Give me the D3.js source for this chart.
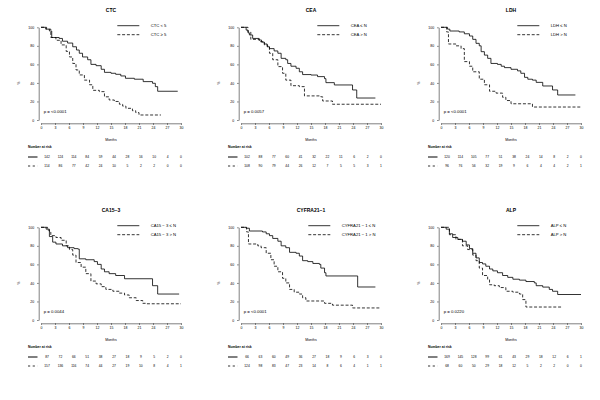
<!DOCTYPE html>
<html>
<head>
<meta charset="utf-8">
<script src="https://cdn.jsdelivr.net/npm/d3@7"></script>
<style>
html,body{margin:0;padding:0;background:#fff;}
svg{display:block;font-family:"Liberation Sans",Arial,sans-serif;}
</style>
</head>
<body>
<svg id="chart" width="600" height="400"></svg>
<script>
// ---------- data ----------
const titles = ["CTC", "CEA", "LDH", "CA15\u22123", "CYFRA21\u22121", "ALP"];
const legendLow = ["CTC < 5", "CEA \u2264 N", "LDH \u2264 N", "CA15 \u2212 3 \u2264 N", "CYFRA21 \u2212 1 \u2264 N", "ALP \u2264 N"];
const legendHigh = ["CTC \u2265 5", "CEA > N", "LDH > N", "CA15 \u2212 3 > N", "CYFRA21 \u2212 1 > N", "ALP > N"];
const pValues = ["p = <0.0001", "p = 0.0057", "p = <0.0001", "p = 0.0044", "p = <0.0001", "p = 0.0220"];
const xTicks = [0, 3, 6, 9, 12, 15, 18, 21, 24, 27, 30];
const yTicks = [0, 20, 40, 60, 80, 100];

// step curves: [month, survival %]
const ctcLow = [[0,100],[1.2,98],[1.8,96],[2.3,89],[3.9,88],[4.6,85],[5.7,83],[6.8,79],[7.6,75.5],[8.2,72],[8.9,68],[10,65],[10.7,60],[11.8,58.6],[12.9,54.7],[13.6,51.4],[15,50.4],[16,49.3],[17.1,47.5],[18.1,45],[20,44],[21.9,41.4],[23.9,39.6],[24.5,36],[25,31],[29.3,31]];
const ctcHigh = [[0,100],[1,98],[2.1,89],[3.2,86],[4.3,81],[5.4,74],[6.1,68],[6.8,61],[7.5,54],[8.2,48.6],[9.3,43],[10.4,38],[11.1,32],[12.5,30.6],[13.6,25],[14.6,21.6],[15.7,20],[16.8,17],[17.5,15],[18.2,12.6],[19.6,10],[20.3,8],[21,5.4],[25.7,5.4]];
const ceaLow = [[0,100],[1.1,97],[1.5,94],[1.8,91.7],[2.5,88],[3.9,86.3],[4.4,84],[5,82],[5.6,79],[6.1,77],[7.1,74.5],[7.9,72],[8.6,66.5],[9.6,65],[10,61],[10.7,58],[11.8,55.8],[12.5,52],[13.2,49],[15,48.5],[16.4,46.8],[17.9,44.6],[18.2,40.3],[20,37.8],[23.9,32.4],[24.8,23.7],[28.8,23.7]];
const ceaHigh = [[0,100],[1.5,95],[2.1,87],[3.9,84.5],[5,81],[5.7,79],[6.1,72],[6.8,65],[7.9,57.6],[8.9,50.4],[9.6,43],[10.7,37],[12.5,36],[13.6,26],[17.1,25],[17.5,20.5],[19.6,17],[30,17]];
const ldhLow = [[0,100],[1.4,98],[1.9,96],[3.9,95],[5,93],[6.1,90.6],[6.8,87],[7.5,82.7],[8.2,80],[8.6,73.7],[9.3,70],[10,66.5],[10.7,61],[12.1,60],[12.9,58],[13.6,56.5],[15,54.7],[16.4,53],[17.1,50.4],[17.9,46],[18.6,44],[19.6,43],[20.4,40.6],[21.8,36.7],[23.9,32.4],[25,27],[28.8,27]];
const ldhHigh = [[0,100],[1.2,95],[1.6,82],[3.2,80],[4.3,77],[5,63],[6.1,58],[6.8,52],[8.2,44],[9.3,38],[10.4,31],[11.8,29],[13.2,24.5],[13.9,21],[15,17.5],[19.6,14],[30,14]];
const caLow = [[0,100],[1.1,98],[1.8,90],[2.5,84],[3.2,82],[4.6,80],[5.7,78],[7.1,77],[7.9,76.5],[8.2,66],[9.6,65],[11.4,63],[12.1,60],[12.9,55],[13.6,52],[14.6,50],[16,48],[17.9,44.5],[23.9,37],[25,28],[29.6,28]];
const caHigh = [[0,100],[1.4,97],[1.8,95],[2.1,91],[3.2,89],[4.3,86],[5.4,80],[6.1,76],[6.8,70],[7.5,62],[8.6,57],[9.6,50],[10.7,42],[11.8,39],[12.9,36],[13.9,33],[15.4,31],[16.8,29],[17.9,27],[18.9,24],[20.4,21],[21.8,18],[22.5,17.5],[30,17.5]];
const cyfraLow = [[0,100],[1.1,99],[1.8,96],[4.6,95],[5.4,93],[6.1,91],[6.8,88],[7.9,85],[8.6,80],[9.6,78],[10.4,73],[11.8,72],[12.5,69],[13.2,64],[14.3,63],[15.4,61],[16.8,60],[17.1,56],[17.9,51],[18.2,47.5],[25,35.6],[28.8,35.6]];
const cyfraHigh = [[0,100],[1.2,95],[1.6,82],[3.6,80],[4.3,78],[5.4,72],[6.4,65],[7.1,58],[7.9,52],[8.9,45],[9.6,40],[10.4,33],[11.4,30],[12.5,28],[13.2,24],[13.9,20.5],[17.9,18],[19.6,16],[23.9,13],[30,13]];
const alpLow = [[0,100],[1.1,98],[1.8,93],[2.5,89],[3.6,87],[4.6,85],[5.4,81],[6.1,77],[6.8,72],[7.5,67],[8.2,62],[8.9,60.5],[9.6,58],[10.4,55],[11.1,53],[12.1,51],[13.2,48],[14.3,46],[15.4,44],[16.8,43],[18.2,41.5],[20,40],[20.4,37],[21.8,35.5],[23.2,33],[23.9,31],[25,27.5],[30,27.5]];
const alpHigh = [[0,100],[1.8,92],[3.2,87],[4.6,80],[5.7,76],[6.8,70],[7.5,64],[8.2,56],[8.9,48],[10,44],[10.4,38],[11.4,37],[12.5,35],[13.9,31],[15.4,30],[16.8,28],[17.5,22],[18.2,14],[26,14]];

// number at risk
const riskCtcLow = [142,124,114,84,59,44,28,16,10,4,0];
const riskCtcHigh = [114,86,77,42,24,10,5,2,2,0,0];
const riskCeaLow = [102,88,77,60,41,32,22,11,6,2,0];
const riskCeaHigh = [108,90,79,44,26,12,7,5,5,3,1];
const riskLdhLow = [120,114,105,77,51,38,24,14,8,2,0];
const riskLdhHigh = [96,76,56,32,19,9,6,4,4,2,1];
const riskCaLow = [87,72,66,51,38,27,18,9,5,2,0];
const riskCaHigh = [157,136,116,74,44,27,19,10,8,4,1];
const riskCyfraLow = [66,63,60,49,36,27,18,9,6,3,0];
const riskCyfraHigh = [124,98,83,47,23,14,8,6,4,1,1];
const riskAlpLow = [169,145,128,99,61,43,29,18,12,6,1];
const riskAlpHigh = [68,60,50,29,18,12,5,2,2,0,0];

const lowCurves = [ctcLow, ceaLow, ldhLow, caLow, cyfraLow, alpLow];
const highCurves = [ctcHigh, ceaHigh, ldhHigh, caHigh, cyfraHigh, alpHigh];
const riskLow = [riskCtcLow, riskCeaLow, riskLdhLow, riskCaLow, riskCyfraLow, riskAlpLow];
const riskHigh = [riskCtcHigh, riskCeaHigh, riskLdhHigh, riskCaHigh, riskCyfraHigh, riskAlpHigh];

// ---------- drawing ----------
const svg = d3.select("#chart");
const x = d3.scaleLinear().domain([0, 30]).range([41, 181]);
const y = d3.scaleLinear().domain([0, 100]).range([120, 27.3]);
const riskX = d3.scaleLinear().domain([0, 10]).range([47, 181]);
const line = d3.line().x(d => x(d[0])).y(d => y(d[1])).curve(d3.curveStepAfter);
const DASH = "3,1.8";

titles.forEach((title, i) => {
  const g = svg.append("g")
    .attr("transform", `translate(${(i % 3) * 200},${Math.floor(i / 3) * 200})`);

  g.append("text").attr("x", 111).attr("y", 12.4)
    .attr("text-anchor", "middle").attr("font-weight", "bold")
    .attr("font-size", 5).text(title);

  // axes
  const xa = g.append("g").attr("transform", "translate(0,123.3)")
    .call(d3.axisBottom(x).tickValues(xTicks).tickSize(1.6).tickSizeOuter(0).tickPadding(1.8));
  const ya = g.append("g").attr("transform", "translate(38.7,0)")
    .call(d3.axisLeft(y).tickValues(yTicks).tickSize(1.6).tickSizeOuter(0).tickPadding(3));
  [xa, ya].forEach(a => {
    a.selectAll("path,line").attr("stroke", "#000").attr("stroke-width", 0.5);
    a.selectAll("text").attr("font-size", 3.5).attr("font-family", "Liberation Sans, Arial, sans-serif").attr("fill", "#000");
  });

  g.append("text").attr("transform", "translate(20.2,83) rotate(-90)")
    .attr("text-anchor", "middle").attr("font-size", 3.5).text("%");
  g.append("text").attr("x", 111).attr("y", 140.5)
    .attr("text-anchor", "middle").attr("font-size", 3.5).text("Months");

  // curves
  g.append("path").datum(lowCurves[i]).attr("d", line)
    .attr("fill", "none").attr("stroke", "#000").attr("stroke-width", 0.8);
  g.append("path").datum(highCurves[i]).attr("d", line)
    .attr("fill", "none").attr("stroke", "#000").attr("stroke-width", 0.8)
    .attr("stroke-dasharray", DASH);

  // legend
  const lx = i === 4 ? 108.3 : 117.3;
  const tx = i === 4 ? 141.7 : 150.7;
  g.append("line").attr("x1", lx).attr("x2", lx + 22).attr("y1", 25.7).attr("y2", 25.7)
    .attr("stroke", "#000").attr("stroke-width", 0.8);
  g.append("line").attr("x1", lx).attr("x2", lx + 22).attr("y1", 34.7).attr("y2", 34.7)
    .attr("stroke", "#000").attr("stroke-width", 0.8).attr("stroke-dasharray", DASH);
  g.append("text").attr("x", tx).attr("y", 27.2).attr("font-size", 4.2).text(legendLow[i]);
  g.append("text").attr("x", tx).attr("y", 36.2).attr("font-size", 4.2).text(legendHigh[i]);

  // p value
  g.append("text").attr("x", 43.7).attr("y", 112.5).attr("font-size", 4.3).text(pValues[i]);

  // number at risk
  g.append("text").attr("x", 28).attr("y", 148.2).attr("font-size", 3.4)
    .attr("font-weight", "bold").text("Number at risk");
  g.append("line").attr("x1", 28).attr("x2", 37.5).attr("y1", 157).attr("y2", 157)
    .attr("stroke", "#000").attr("stroke-width", 1);
  g.append("line").attr("x1", 28).attr("x2", 37.5).attr("y1", 166).attr("y2", 166)
    .attr("stroke", "#000").attr("stroke-width", 0.8).attr("stroke-dasharray", "2.2,2.5");
  g.selectAll(".rl").data(riskLow[i]).enter().append("text")
    .attr("x", (d, k) => riskX(k)).attr("y", 158.2).attr("text-anchor", "middle")
    .attr("font-size", 3.3).text(d => d);
  g.selectAll(".rh").data(riskHigh[i]).enter().append("text")
    .attr("x", (d, k) => riskX(k)).attr("y", 167.2).attr("text-anchor", "middle")
    .attr("font-size", 3.3).text(d => d);
});
</script>
</body>
</html>
